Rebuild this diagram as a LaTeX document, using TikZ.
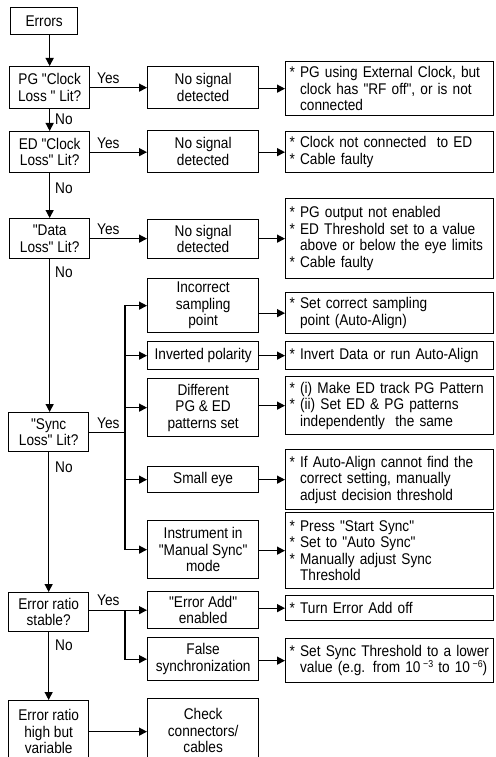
\documentclass[tikz,border=0pt]{standalone}
\usepackage{fontspec}
\setmainfont{Liberation Sans}[FakeStretch=0.88, Ligatures=TeXOff]
\usetikzlibrary{arrows.meta}
% bullet that starts a remedy line, and the matching indent for continuation lines
\newcommand{\bul}{*\ }
\newcommand{\contind}{\hphantom{*\ }}
% straight double quote
\newcommand{\q}{\symbol{"22}}
% small raised exponent
\newcommand{\expo}[1]{\raisebox{5.5pt}{\fontsize{10}{10}\selectfont #1}}
\begin{document}
\begin{tikzpicture}[x=1pt,y=-1pt,
  every node/.style={font=\fontsize{15.5}{16.5}\selectfont},
  box/.style={draw, line width=1.3pt, inner sep=0pt, anchor=north west, align=center},
  dec/.style={box, minimum width=80pt},
  cause/.style={box, minimum width=111pt},
  fix/.style={box, minimum width=208pt, text width=200pt, inner xsep=4pt, align=left},
  link/.style={line width=1.3pt},
  arr/.style={link, -{Triangle[length=8pt,width=8pt]}},
  yes/.style={inner sep=0pt, anchor=base west},
  no/.style={inner sep=0pt, anchor=west}
]
\clip (0,0) rectangle (495,757);

% decision column
\node[box, minimum width=67pt, minimum height=27pt] (errors) at (10,7) {Errors};
\node[dec, minimum height=42pt] (pg) at (9,66) {PG \q Clock\\Loss \q\ Lit?};
\node[dec, minimum height=41pt] (ed) at (9,131) {ED \q Clock\\Loss\q\ Lit?};
\node[dec, minimum height=40pt] (data) at (9,218) {\q Data\\Loss\q\ Lit?};
\node[dec, minimum height=39pt] (sync) at (8,412) {\q Sync\\Loss\q\ Lit?};
\node[dec, minimum height=39pt] (stable) at (8,592) {Error ratio\\stable?};
\node[dec, minimum height=62pt] (high) at (8,700) {Error ratio\\high but\\variable};

% cause column
\node[cause, minimum height=42pt] (ns1) at (147,66) {No signal\\detected};
\node[cause, minimum height=42pt] (ns2) at (147,130) {No signal\\detected};
\node[cause, minimum height=39pt] (ns3) at (147,219) {No signal\\detected};
\node[cause, minimum height=54pt] (samp) at (147,278) {Incorrect\\sampling\\point};
\node[cause, minimum height=28pt] (inv) at (147,341) {Inverted polarity};
\node[cause, minimum height=58pt] (diff) at (147,378) {Different\\PG \& ED\\patterns set};
\node[cause, minimum height=26pt] (eye) at (147,466) {Small eye};
\node[cause, minimum height=58pt] (man) at (147,520) {Instrument in\\\q Manual Sync\q\\mode};
\node[cause, minimum height=37pt] (add) at (147,591) {\q Error Add\q\\enabled};
\node[cause, minimum height=43pt] (fsync) at (147,637) {False\\synchronization};
\node[cause, minimum height=64pt] (check) at (147,698) {Check\\connectors/\\cables};

% remedy column
\node[fix, minimum height=54pt] (t1) at (285,61) {\bul PG using External Clock, but\\\contind clock has \q RF off\q, or is not\\\contind connected};
\node[fix, minimum height=41pt] (t2) at (285,131) {\bul Clock not connected\ \ to ED\\\bul Cable faulty};
\node[fix, minimum height=80pt] (t3) at (285,198) {\bul PG output not enabled\\\bul ED Threshold set to a value\\\contind above or below the eye limits\\\bul Cable faulty};
\node[fix, minimum height=41pt] (t4) at (285,292) {\bul Set correct sampling\\\contind point (Auto-Align)};
\node[fix, minimum height=28pt] (t5) at (285,341) {\bul Invert Data or run Auto-Align};
\node[fix, minimum height=58pt] (t6) at (285,376) {\bul (i) Make ED track PG Pattern\\\bul (ii) Set ED \& PG patterns\\\contind independently\ \ the same};
\node[fix, minimum height=60pt] (t7) at (285,449) {\bul If Auto-Align cannot find the\\\contind correct setting, manually\\\contind adjust decision threshold};
\node[fix, minimum height=76pt] (t8) at (285,512) {\bul Press \q Start Sync\q\\\bul Set to \q Auto Sync\q\\\bul Manually adjust Sync\\\contind Threshold};
\node[fix, minimum height=25pt] (t9) at (285,595) {\bul Turn Error Add off};
\node[fix, minimum height=44pt] (t10) at (285,638) {\bul Set Sync Threshold to a lower\\\contind value (e.g. from 10\,\expo{−3} to 10\,\expo{−6})};

% main "No" chain
\draw[arr] (errors.south -| pg.north) -- (pg.north);
\draw[arr] (pg.south) -- (ed.north);
\draw[arr] (ed.south) -- (data.north);
\draw[arr] (data.south) -- (data.south |- sync.north);
\draw[arr] (sync.south) -- (sync.south |- stable.north);
\draw[arr] (stable.south) -- (high.north);

% "Yes" branches
\draw[arr] (pg.east) -- (pg.east -| ns1.west);
\draw[arr] (ed.east) -- (ed.east -| ns2.west);
\draw[arr] (data.east) -- (data.east -| ns3.west);

\coordinate (tr) at (125,0);
\draw[link] (sync.east) -- (sync.east -| tr);
\draw[arr] (tr |- eye.west) -- (tr |- samp.west) -- (samp.west);
\draw[arr] (tr |- eye.west) -- (tr |- man.west) -- (man.west);
\foreach \n in {inv,diff,eye} \draw[arr] (tr |- \n.west) -- (\n.west);

\draw[arr] (stable.east |- add.west) -- (add.west);
\draw[arr] (tr |- add.west) -- (tr |- fsync.west) -- (fsync.west);

\draw[arr] (high.east) -- (high.east -| check.west);

% causes to remedies
\foreach \a/\b in {ns1/t1, ns2/t2, ns3/t3, samp/t4, inv/t5, diff/t6, eye/t7, man/t8, add/t9, fsync/t10}
  \draw[arr] (\a.east |- \b.west) -- (\b.west);

% branch labels
\node[yes] (y1) at (97,84) {Yes};
\node[yes] (y2) at (97,148) {Yes};
\node[yes] (y3) at (97,234) {Yes};
\node[yes] (y4) at (97,428) {Yes};
\node[yes] (y5) at (97,605) {Yes};
\node[no] (n1) at (55,119) {No};
\node[no] (n2) at (55,188) {No};
\node[no] (n3) at (55,272) {No};
\node[no] (n4) at (55,467) {No};
\node[no] (n5) at (55,645) {No};
\end{tikzpicture}
\end{document}
